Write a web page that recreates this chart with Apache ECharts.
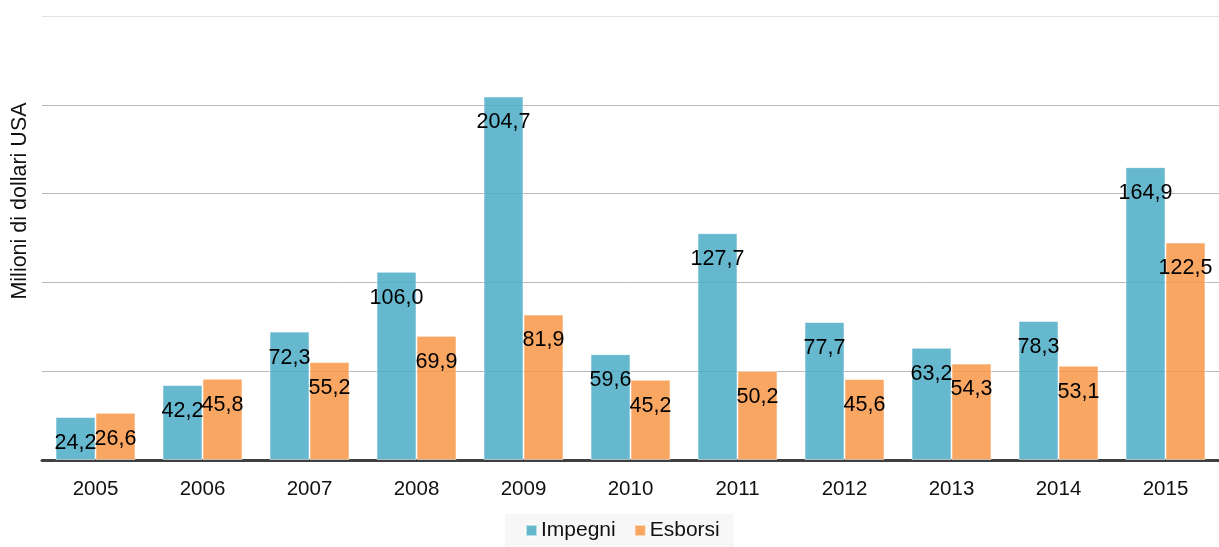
<!DOCTYPE html>
<html>
<head>
<meta charset="utf-8">
<script src="https://cdn.jsdelivr.net/npm/echarts@6/dist/echarts.min.js"></script>
<style>
html,body{margin:0;padding:0;background:#fff;}
#chart{width:1219px;height:547px;}
</style>
</head>
<body>
<div id="chart"></div>
<script>
const categories = ['2005','2006','2007','2008','2009','2010','2011','2012','2013','2014','2015'];
const impegni = [24.2, 42.2, 72.3, 106.0, 204.7, 59.6, 127.7, 77.7, 63.2, 78.3, 164.9];
const esborsi = [26.6, 45.8, 55.2, 69.9, 81.9, 45.2, 50.2, 45.6, 54.3, 53.1, 122.5];
const seriesNames = ['Impegni', 'Esborsi'];
const yAxisTitle = 'Milioni di dollari USA';

const font = '"Liberation Sans", Arial, sans-serif';
const fmt = p => p.value.toFixed(1).replace('.', ',');

const chart = echarts.init(document.getElementById('chart'));
chart.setOption({
  animation: false,
  backgroundColor: '#fff',
  grid: {left: 42, right: 0, top: 16, bottom: 87, containLabel: false},
  legend: {
    data: seriesNames,
    left: 505,
    top: 514,
    backgroundColor: '#f7f7f7',
    padding: [6, 14, 8, 20],
    itemWidth: 11,
    itemHeight: 11,
    itemGap: 18,
    icon: 'rect',
    textStyle: {fontFamily: font, fontSize: 21, color: '#111', padding: [0, 0, 0, -1]}
  },
  graphic: [{
    type: 'text',
    x: 20, y: 201,
    rotation: Math.PI / 2,
    style: {text: yAxisTitle, fontFamily: font, fontSize: 21.5, fill: '#111', align: 'center', verticalAlign: 'middle'}
  }],
  xAxis: {
    type: 'category',
    data: categories,
    axisLine: {show: true, lineStyle: {color: '#404040', width: 3}},
    axisTick: {show: false},
    axisLabel: {fontFamily: font, fontSize: 20.5, color: '#111', margin: 19}
  },
  yAxis: {
    type: 'value',
    min: 0, max: 250, interval: 50,
    axisLine: {show: false},
    axisTick: {show: false},
    axisLabel: {show: false},
    splitLine: {show: true, lineStyle: {color: ['#b8b8b8','#b8b8b8','#b8b8b8','#b8b8b8','#b8b8b8','#e2e2e2'], width: 1}}
  },
  series: [
    {
      name: seriesNames[0], type: 'bar', data: impegni,
      barWidth: 40, barGap: '0%',
      itemStyle: {color: 'rgba(75,172,198,0.85)', borderColor: 'rgba(255,255,255,0.55)', borderWidth: 1},
      label: {show: true, position: 'insideTop', distance: 15, formatter: fmt, fontFamily: font, fontSize: 21.5, color: '#000'}
    },
    {
      name: seriesNames[1], type: 'bar', data: esborsi,
      barWidth: 40, barGap: '0%',
      itemStyle: {color: 'rgba(247,150,70,0.85)', borderColor: 'rgba(255,255,255,0.55)', borderWidth: 1},
      label: {show: true, position: 'insideTop', distance: 15, formatter: fmt, fontFamily: font, fontSize: 21.5, color: '#000'}
    }
  ]
});
</script>
</body>
</html>
